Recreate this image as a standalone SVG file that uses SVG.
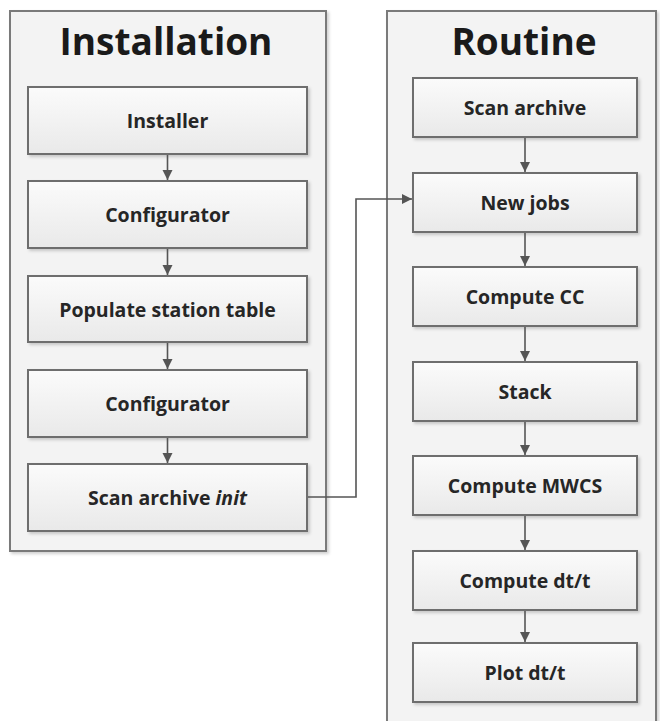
<svg xmlns="http://www.w3.org/2000/svg" width="660" height="721" viewBox="0 0 660 721">
  <style>
    .panel { fill: #f3f3f3; stroke: #7a7a7a; stroke-width: 2; }
    .box { fill: url(#boxFill); stroke: #6e6e6e; stroke-width: 2; }
    .title { font-family: "Open Sans", "Liberation Sans", sans-serif; font-weight: bold; font-size: 37px; fill: #1a1a1a; text-anchor: middle; }
    .label { font-family: "Open Sans", "Liberation Sans", sans-serif; font-weight: bold; font-size: 19.5px; fill: #262626; text-anchor: middle; }
    .conn { fill: none; stroke: #555; stroke-width: 1.6; }
  </style>
  <defs>
    <linearGradient id="boxFill" x1="0" y1="0" x2="0" y2="1">
      <stop offset="0" stop-color="#fbfbfb"/>
      <stop offset="1" stop-color="#e9e9e9"/>
    </linearGradient>
    <filter id="shadow" x="-5%" y="-5%" width="115%" height="120%">
      <feDropShadow dx="2" dy="2" stdDeviation="1.5" flood-color="#000" flood-opacity="0.18"/>
    </filter>
    <marker id="arrow" viewBox="0 0 10 10" refX="10" refY="5" markerWidth="10" markerHeight="11" markerUnits="userSpaceOnUse" orient="auto">
      <path d="M0,0 L10,5 L0,10 z" fill="#555"/>
    </marker>
  </defs>

  <!-- Installation panel -->
  <g id="installation">
    <rect class="panel" x="10" y="11" width="316" height="540" filter="url(#shadow)"/>
    <text class="title" x="166" y="55">Installation</text>
  </g>

  <!-- Routine panel -->
  <g id="routine">
    <rect class="panel" x="387" y="11" width="269" height="720" filter="url(#shadow)"/>
    <text class="title" x="524" y="55">Routine</text>
  </g>

  <!-- Installation steps -->
  <g id="installer"><rect class="box" x="28" y="87" width="279" height="67" filter="url(#shadow)"/><text class="label" x="167.5" y="128">Installer</text></g>
  <g id="configurator1"><rect class="box" x="28" y="181" width="279" height="67" filter="url(#shadow)"/><text class="label" x="167.5" y="222">Configurator</text></g>
  <g id="populate"><rect class="box" x="28" y="276" width="279" height="66" filter="url(#shadow)"/><text class="label" x="167.5" y="317">Populate station table</text></g>
  <g id="configurator2"><rect class="box" x="28" y="370" width="279" height="67" filter="url(#shadow)"/><text class="label" x="167.5" y="411">Configurator</text></g>
  <g id="scan-init"><rect class="box" x="28" y="464" width="279" height="67" filter="url(#shadow)"/><text class="label" x="167.5" y="505">Scan archive <tspan font-style="italic">init</tspan></text></g>

  <!-- Routine steps -->
  <g id="scan-archive"><rect class="box" x="413" y="78" width="224" height="59" filter="url(#shadow)"/><text class="label" x="525" y="115">Scan archive</text></g>
  <g id="new-jobs"><rect class="box" x="413" y="173" width="224" height="59" filter="url(#shadow)"/><text class="label" x="525" y="210">New jobs</text></g>
  <g id="compute-cc"><rect class="box" x="413" y="267" width="224" height="59" filter="url(#shadow)"/><text class="label" x="525" y="304">Compute CC</text></g>
  <g id="stack"><rect class="box" x="413" y="362" width="224" height="59" filter="url(#shadow)"/><text class="label" x="525" y="399">Stack</text></g>
  <g id="compute-mwcs"><rect class="box" x="413" y="456" width="224" height="59" filter="url(#shadow)"/><text class="label" x="525" y="493">Compute MWCS</text></g>
  <g id="compute-dtt"><rect class="box" x="413" y="551" width="224" height="59" filter="url(#shadow)"/><text class="label" x="525" y="588">Compute dt/t</text></g>
  <g id="plot-dtt"><rect class="box" x="413" y="643" width="224" height="59" filter="url(#shadow)"/><text class="label" x="525" y="680">Plot dt/t</text></g>

  <!-- Connectors -->
  <g id="connectors">
    <path class="conn" d="M167.5,155 V180" marker-end="url(#arrow)"/>
    <path class="conn" d="M167.5,249 V275" marker-end="url(#arrow)"/>
    <path class="conn" d="M167.5,343 V369" marker-end="url(#arrow)"/>
    <path class="conn" d="M167.5,438 V463" marker-end="url(#arrow)"/>
    <path class="conn" d="M308,497 H356 V199 H412" marker-end="url(#arrow)"/>
    <path class="conn" d="M525,138 V172" marker-end="url(#arrow)"/>
    <path class="conn" d="M525,233 V266" marker-end="url(#arrow)"/>
    <path class="conn" d="M525,327 V361" marker-end="url(#arrow)"/>
    <path class="conn" d="M525,422 V455" marker-end="url(#arrow)"/>
    <path class="conn" d="M525,516 V550" marker-end="url(#arrow)"/>
    <path class="conn" d="M525,611 V642" marker-end="url(#arrow)"/>
  </g>
</svg>
